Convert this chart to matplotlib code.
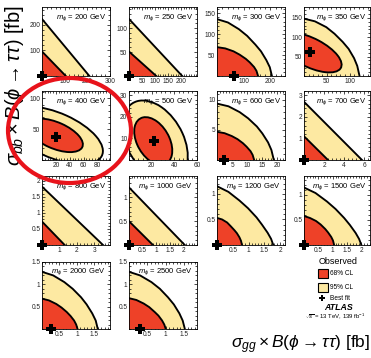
import matplotlib
matplotlib.use("Agg")
import matplotlib.pyplot as plt
from matplotlib.patches import Ellipse, Rectangle
from matplotlib.ticker import FixedLocator, AutoMinorLocator, FormatStrFormatter

plt.rcParams['font.family'] = ['Liberation Sans', 'DejaVu Sans']
plt.rcParams['mathtext.fontset'] = 'custom'
plt.rcParams['mathtext.rm'] = 'Liberation Sans'
plt.rcParams['mathtext.it'] = 'Liberation Sans:italic'
plt.rcParams['mathtext.bf'] = 'Liberation Sans:bold'

# ---------------- data ----------------
masses = [200, 250, 300, 350, 400, 500, 600, 700, 800, 1000, 1200, 1500, 2000, 2500]
x_max = [300, 262, 255, 145, 98, 60, 22.5, 6.6, 3.9, 2.5, 2.15, 2.3, 1.95, 1.85]
y_max = [270, 144, 165, 178, 112, 32, 11.5, 3.2, 2.15, 1.45, 1.35, 1.38, 1.5, 1.5]
x_ticks = [[100, 200, 300], [50, 100, 150, 200], [100, 200], [50, 100], [20, 40, 60, 80],
           [20, 40, 60], [5, 10, 15, 20], [2, 4, 6], [1, 2, 3], [0.5, 1, 1.5, 2],
           [0.5, 1, 1.5, 2], [0.5, 1, 1.5, 2], [0.5, 1, 1.5], [0.5, 1, 1.5]]
y_ticks = [[100, 200], [50, 100], [50, 100, 150], [50, 100, 150], [50, 100], [10, 20, 30],
           [5, 10], [1, 2, 3], [0.5, 1, 1.5, 2], [0.5, 1], [0.5, 1], [0.5, 1],
           [0.5, 1, 1.5], [0.5, 1, 1.5]]
best_x = [0, 0, 62, 13, 20, 22, 2.2, 0, 0, 0, 0, 0, 0.26, 0.3]
best_y = [0, 0, 0, 61, 38, 9, 0, 0, 0, 0, 0, 0, 0, 0]

# 95% CL contours touching the axes
cl95_x = {
    200: [0, 209], 250: [0, 205],
    300: [0, 41, 82, 113, 144, 165, 185, 198, 206],
    350: [0, 24, 49, 67, 85, 98, 110, 117, 122],
    600: [0, 3.8, 7.5, 10.3, 13.2, 15.0, 16.9, 18.0, 18.8],
    700: [0, 5.8], 800: [0, 3.5], 1000: [0, 2.05],
    1200: [0, 0.36, 0.71, 0.98, 1.25, 1.42, 1.6, 1.71, 1.78],
    1500: [0, 0.4, 0.8, 1.1, 1.4, 1.6, 1.8, 1.92, 2.0],
    2000: [0, 0.32, 0.64, 0.88, 1.12, 1.28, 1.44, 1.54, 1.6],
    2500: [0, 0.3, 0.61, 0.84, 1.06, 1.22, 1.37, 1.46, 1.52],
}
cl95_y = {
    200: [223, 0], 250: [119, 0],
    300: [136, 128, 112, 96, 75, 59, 38, 21, 0],
    350: [148, 141, 126, 109, 88, 70, 46, 26, 0],
    600: [9.4, 8.95, 7.98, 6.95, 5.58, 4.43, 2.93, 1.67, 0],
    700: [2.7, 0], 800: [1.82, 0], 1000: [1.21, 0],
    1200: [1.15, 1.04, 0.87, 0.72, 0.54, 0.40, 0.24, 0.12, 0],
    1500: [1.15, 1.04, 0.87, 0.72, 0.54, 0.40, 0.24, 0.12, 0],
    2000: [1.28, 1.2, 1.05, 0.9, 0.71, 0.55, 0.35, 0.19, 0],
    2500: [1.28, 1.2, 1.05, 0.9, 0.71, 0.55, 0.35, 0.19, 0],
}
# 68% CL contours touching the axes
cl68_x = {
    200: [0, 105], 250: [0, 105],
    300: [0, 31, 62, 85, 108, 123, 139, 148, 154],
    600: [0, 2.5, 4.9, 6.8, 8.6, 9.8, 11.1, 11.8, 12.3],
    700: [0, 2.4], 800: [0, 1.3], 1000: [0, 0.88],
    1200: [0, 0.16, 0.32, 0.43, 0.55, 0.63, 0.71, 0.76, 0.79],
    1500: [0, 0.21, 0.42, 0.58, 0.74, 0.84, 0.95, 1.01, 1.05],
    2000: [0, 0.2, 0.41, 0.56, 0.71, 0.82, 0.92, 0.98, 1.02],
    2500: [0, 0.2, 0.4, 0.55, 0.7, 0.8, 0.9, 0.96, 1.0],
}
cl68_y = {
    200: [96, 0], 250: [51, 0],
    300: [69, 66, 59, 51, 41, 32.5, 21.5, 12.3, 0],
    600: [4.7, 4.47, 3.99, 3.47, 2.79, 2.21, 1.47, 0.84, 0],
    700: [1.1, 0], 800: [0.73, 0], 1000: [0.5, 0],
    1200: [0.53, 0.50, 0.44, 0.37, 0.29, 0.23, 0.15, 0.08, 0],
    1500: [0.58, 0.54, 0.48, 0.41, 0.32, 0.25, 0.16, 0.09, 0],
    2000: [0.68, 0.64, 0.56, 0.48, 0.38, 0.29, 0.19, 0.10, 0],
    2500: [0.69, 0.65, 0.57, 0.49, 0.38, 0.30, 0.19, 0.10, 0],
}
# closed contours: (centre x, centre y, width, height, angle) in data units
ell68 = {350: (13, 61, 158, 72, -32), 400: (19, 40, 87, 42, -27),
         500: (21.4, 8.8, 35.3, 19.3, -21.6)}
ell95 = {400: (19, 40, 150, 72, -27), 500: (23, 8.8, 60.3, 33.4, -20.2)}

RED = '#ee4128'
YEL = '#fde9a2'
W, H = 371, 358

fig = plt.figure(figsize=(W / 100, H / 100), dpi=100)

col_left = [42, 129, 217, 304]
col_w = [68, 68, 68, 66]
row_top = [7, 91, 176, 262]
row_h = [69, 69, 69, 67]

for i, m in enumerate(masses):
    r, c = divmod(i, 4)
    ax = fig.add_axes([col_left[c] / W, 1 - (row_top[r] + row_h[r]) / H,
                       col_w[c] / W, row_h[r] / H])
    lw = 1.35
    if m in cl95_x:
        xs, ys = cl95_x[m], cl95_y[m]
        ax.fill([0] + xs, [0] + ys, color=YEL, lw=0, zorder=1)
        ax.plot(xs, ys, color='black', lw=lw, zorder=3)
    if m in ell95:
        cx, cy, w, h, a = ell95[m]
        ax.add_patch(Ellipse((cx, cy), w, h, angle=a, facecolor=YEL, edgecolor='black', lw=lw, zorder=1))
    if m in cl68_x:
        xs, ys = cl68_x[m], cl68_y[m]
        ax.fill([0] + xs, [0] + ys, color=RED, lw=0, zorder=2)
        ax.plot(xs, ys, color='black', lw=lw, zorder=3)
    if m in ell68:
        cx, cy, w, h, a = ell68[m]
        ax.add_patch(Ellipse((cx, cy), w, h, angle=a, facecolor=RED, edgecolor='black', lw=lw, zorder=2))
    ax.plot([best_x[i]], [best_y[i]], marker='P', color='black', ms=6.5, mew=0,
            clip_on=False, zorder=10)
    ax.set_xlim(0, x_max[i])
    ax.set_ylim(0, y_max[i])
    ax.xaxis.set_major_locator(FixedLocator(x_ticks[i]))
    ax.yaxis.set_major_locator(FixedLocator(y_ticks[i]))
    ax.xaxis.set_minor_locator(AutoMinorLocator(5))
    ax.yaxis.set_minor_locator(AutoMinorLocator(5))
    ax.xaxis.set_major_formatter(FormatStrFormatter('%g'))
    ax.yaxis.set_major_formatter(FormatStrFormatter('%g'))
    ax.tick_params(which='both', direction='in', top=True, right=True, width=0.5,
                   labelsize=4.7, pad=1.2, labelcolor='#222222')
    ax.tick_params(which='major', length=2.2)
    ax.tick_params(which='minor', length=1.1)
    for s in ax.spines.values():
        s.set_linewidth(0.6)
    ax.text(0.94, 0.93, r'$m_{\phi}$ = %d GeV' % m, transform=ax.transAxes,
            ha='right', va='top', fontsize=5.5, zorder=12)

# axis titles
fig.text(15 / W, 1 - 5 / H, r'$\sigma_{bb} \times B(\phi \rightarrow \tau\tau)$ [fb]',
         rotation=90, ha='center', va='top', fontsize=14.5)
fig.text(370 / W, 1 - 345 / H, r'$\sigma_{gg} \times B(\phi \rightarrow \tau\tau)$ [fb]',
         ha='right', va='center', fontsize=12.5)

# legend
fig.text(338 / W, 1 - 262 / H, 'Observed', ha='center', va='center', fontsize=6.5)
fig.add_artist(Rectangle((318 / W, 1 - 278 / H), 10 / W, 9 / H, transform=fig.transFigure,
                         facecolor=RED, edgecolor='black', lw=0.8))
fig.text(330 / W, 1 - 273.5 / H, '68% CL', ha='left', va='center', fontsize=4.7)
fig.add_artist(Rectangle((318 / W, 1 - 292 / H), 10 / W, 9 / H, transform=fig.transFigure,
                         facecolor=YEL, edgecolor='black', lw=0.8))
fig.text(330 / W, 1 - 287.5 / H, '95% CL', ha='left', va='center', fontsize=4.7)
fig.lines.append(plt.Line2D([322 / W], [1 - 298 / H], marker='P', color='black', ms=4.5,
                            mew=0, transform=fig.transFigure, figure=fig))
fig.text(330 / W, 1 - 298 / H, 'Best fit', ha='left', va='center', fontsize=4.7)
fig.text(339 / W, 1 - 307 / H, 'ATLAS', ha='center', va='center', fontsize=6.3,
         fontweight='bold', fontstyle='italic')
fig.text(335 / W, 1 - 316 / H, r'$\sqrt{s}$ = 13 TeV, 139 fb$^{-1}$', ha='center',
         va='center', fontsize=4.3)

# red circle annotation drawn over the figure
fig.add_artist(Ellipse((69.5 / W, 1 - 130.5 / H), 123 / W, 105 / H, transform=fig.transFigure,
                       fill=False, edgecolor='#e8131b', lw=3.0, zorder=100))

fig.savefig('out.png', dpi=100)
